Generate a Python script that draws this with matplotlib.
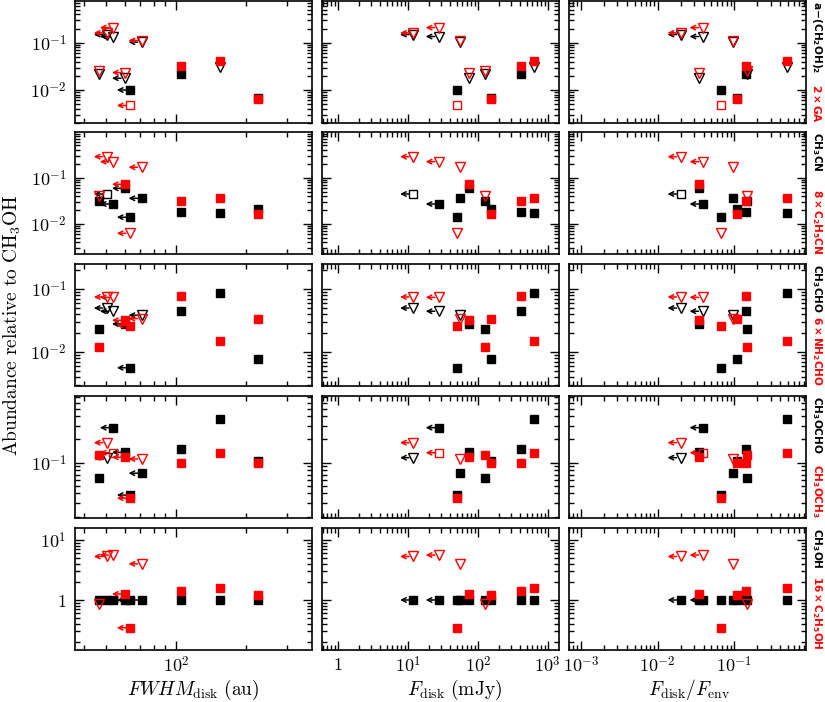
import numpy as np
import matplotlib
matplotlib.use('Agg')
import matplotlib.pyplot as plt
import matplotlib.transforms as mtransforms
from matplotlib.ticker import LogLocator, FuncFormatter, NullFormatter

plt.rcParams['mathtext.fontset'] = 'cm'
plt.rcParams['font.family'] = ['DejaVu Serif']

# ---------------- data ----------------
sources = ['A', 'B', 'C', 'D', 'E', 'F', 'G', 'H', 'I']
fwhm_disk = [50.4, 53.5, 71.1, 60.3, 46.7, 226, 105, 155, 63.3]
fwhm_ul = [True, True, True, True, False, False, False, False, True]
f_disk = [11.9, 27.7, 55, 74, 127, 153, 411, 631, 50]
f_disk_ul = [True, True, False, False, False, False, False, False, False]
f_ratio = [0.020, 0.0387, 0.097, 0.0346, 0.148, 0.107, 0.14, 0.48, 0.0665]
f_ratio_ul = [True, True, False, False, False, False, False, False, False]

# d = detection, u = upper limit, t = tentative
aeg_val = [0.150, 0.136, 0.103, 0.0178, 0.0223, 0.0067, 0.0217, 0.031, 0.010]
aeg_kind = ['u', 'u', 'u', 'u', 'u', 'd', 'd', 'u', 'd']
ga_val = [0.162, 0.21, 0.112, 0.0234, 0.0247, 0.0063, 0.0316, 0.0418, 0.0047]
ga_kind = ['u', 'u', 'u', 'u', 'u', 'd', 'd', 'd', 't']

ch3cn_val = [0.0445, 0.027, 0.0359, 0.059, 0.0314, 0.0208, 0.0185, 0.017, 0.014]
ch3cn_kind = ['t', 'd', 'd', 'd', 'd', 'd', 'd', 'd', 'd']
c2h5cn_val = [0.284, 0.222, 0.168, 0.072, 0.040, 0.0164, 0.0314, 0.037, 0.0063]
c2h5cn_kind = ['u', 'u', 'u', 'd', 'u', 'd', 'd', 'd', 'u']

ch3cho_val = [0.050, 0.0445, 0.0385, 0.028, 0.0236, 0.0079, 0.0454, 0.0865, 0.00565]
ch3cho_kind = ['u', 'u', 'u', 'd', 'd', 'd', 'd', 'd', 'd']
nh2cho_val = [0.075, 0.074, 0.034, 0.032, 0.012, 0.034, 0.0767, 0.0149, 0.0263]
nh2cho_kind = ['u', 'u', 'u', 'd', 'd', 'd', 'd', 'd', 'd']

ch3ocho_val = [0.116, 0.284, 0.073, 0.136, 0.064, 0.105, 0.149, 0.367, 0.038]
ch3ocho_kind = ['u', 'd', 'd', 'd', 'd', 'd', 'd', 'd', 'd']
ch3och3_val = [0.1815, 0.1345, 0.1117, 0.1175, 0.126, 0.100, 0.100, 0.1345, 0.0347]
ch3och3_kind = ['u', 't', 'u', 'd', 'd', 'd', 'd', 'd', 'd']

ch3oh_val = [1, 1, 1, 1, 1, 1, 1, 1, 1]
ch3oh_kind = ['d'] * 9
c2h5oh_val = [5.3, 5.6, 4.0, 1.26, 0.86, 1.21, 1.41, 1.57, 0.345]
c2h5oh_kind = ['u', 'u', 'u', 'd', 'u', 'd', 'd', 'd', 'd']

row_black_labels = [r'$\mathbf{a\!-\!(CH_2OH)_2}$', r'$\mathbf{CH_3CN}$', r'$\mathbf{CH_3CHO}$',
                    r'$\mathbf{CH_3OCHO}$', r'$\mathbf{CH_3OH}$']
row_red_labels = [r'$\mathbf{2\times GA}$', r'$\mathbf{8\times C_2H_5CN}$', r'$\mathbf{6\times NH_2CHO}$',
                  r'$\mathbf{CH_3OCH_3}$', r'$\mathbf{16\times C_2H_5OH}$']

rows = [
    (aeg_val, aeg_kind, ga_val, ga_kind),
    (ch3cn_val, ch3cn_kind, c2h5cn_val, c2h5cn_kind),
    (ch3cho_val, ch3cho_kind, nh2cho_val, nh2cho_kind),
    (ch3ocho_val, ch3ocho_kind, ch3och3_val, ch3och3_kind),
    (ch3oh_val, ch3oh_kind, c2h5oh_val, c2h5oh_kind),
]
row_ylims = [(0.002, 0.77), (0.00225, 0.97), (0.0029, 0.25), (0.0192, 0.73), (0.147, 15.8)]

cols = [(fwhm_disk, fwhm_ul), (f_disk, f_disk_ul), (f_ratio, f_ratio_ul)]
col_xlims = [(36.7, 385), (0.59, 1450), (7.0e-4, 0.86)]
col_xlabels = [r'$FWHM_{\rm disk}\ {\rm (au)}$', r'$F_{\rm disk}\ {\rm (mJy)}$',
               r'$F_{\rm disk}/F_{\rm env}$']

# ---------------- layout ----------------
W, H = 825, 702
fig = plt.figure(figsize=(W / 100, H / 100), dpi=100)
col_left = [75, 322, 569]
row_top = [1, 132, 264, 396, 528]
aw, ah = 237, 122


def fmt(v, pos):
    e = int(round(np.log10(v)))
    if e == 0:
        return r'$1$'
    return r'$10^{%d}$' % e


def draw_point(ax, x, y, kind, color, ul, z):
    if kind == 'd':
        ax.plot([x], [y], marker='s', ms=5.3, mfc=color, mec=color, ls='none', zorder=z)
    elif kind == 'u':
        ax.plot([x], [y], marker='v', ms=7.0, mfc='none', mec=color, mew=1.0, ls='none', zorder=z)
    else:
        ax.plot([x], [y], marker='s', ms=5.3, mfc='none', mec=color, mew=1.0, ls='none', zorder=z)
    if ul:
        tip = mtransforms.offset_copy(ax.transData, fig=fig, x=-9.5, y=0, units='points')
        start = mtransforms.offset_copy(ax.transData, fig=fig, x=-3.0, y=0, units='points')
        ax.annotate('', xy=(x, y), xycoords=tip, xytext=(x, y), textcoords=start,
                    arrowprops=dict(arrowstyle='->', color=color, lw=1.1,
                                    shrinkA=0, shrinkB=0, mutation_scale=8),
                    zorder=z)


for r in range(5):
    bvals, bkind, rvals, rkind = rows[r]
    for c in range(3):
        l = col_left[c]
        t = row_top[r]
        ax = fig.add_axes([l / W, 1 - (t + ah) / H, aw / W, ah / H])
        ax.set_xscale('log')
        ax.set_yscale('log')
        ax.set_xlim(*col_xlims[c])
        ax.set_ylim(*row_ylims[r])
        xs, xul = cols[c]
        for i in range(len(sources)):
            draw_point(ax, xs[i], bvals[i], bkind[i], 'black', xul[i], 3)
        for i in range(len(sources)):
            draw_point(ax, xs[i], rvals[i], rkind[i], 'red', xul[i], 4)

        for axis in (ax.xaxis, ax.yaxis):
            axis.set_major_locator(LogLocator(base=10, numticks=30))
            axis.set_minor_locator(LogLocator(base=10, subs=np.arange(2, 10), numticks=30))
            axis.set_minor_formatter(NullFormatter())
            axis.set_major_formatter(FuncFormatter(fmt))
        ax.tick_params(which='both', direction='in', top=True, right=True, width=1.0)
        ax.tick_params(which='major', length=6.5)
        ax.tick_params(which='minor', length=3.5)
        ax.tick_params(axis='y', labelsize=13, pad=6)
        ax.tick_params(axis='x', labelsize=13, pad=4)
        for sp in ax.spines.values():
            sp.set_linewidth(1.2)
        if c != 0:
            ax.set_yticklabels([])
        if r != 4:
            ax.set_xticklabels([])
        if c == 2:
            ax.text(1.045, 1.0, row_black_labels[r], transform=ax.transAxes, rotation=-90,
                    va='top', ha='center', fontsize=7.6, color='black',
                    math_fontfamily='dejavusans')
            ax.text(1.045, 0.0, row_red_labels[r], transform=ax.transAxes, rotation=-90,
                    va='bottom', ha='center', fontsize=7.6, color='red',
                    math_fontfamily='dejavusans')

fig.text(12 / W, 1 - 325 / H, r'${\rm Abundance\ relative\ to\ CH_3OH}$', rotation=90,
         va='center', ha='center', fontsize=14)
xlabel_x = [193, 455, 689]
for c in range(3):
    fig.text(xlabel_x[c] / W, 1 - 695 / H, col_xlabels[c], va='baseline', ha='center', fontsize=14)

fig.savefig('out.png', dpi=100)
